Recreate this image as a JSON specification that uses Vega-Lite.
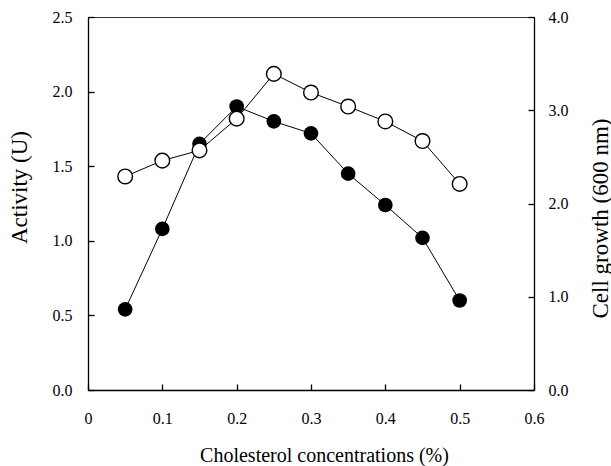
{
  "$schema": "https://vega.github.io/schema/vega-lite/v6.json",
  "autosize": "none",
  "width": 446,
  "height": 373,
  "padding": {"left": 88, "top": 17, "right": 77, "bottom": 76},
  "background": "white",
  "config": {
    "view": {"stroke": "#333333", "strokeWidth": 1},
    "font": "Liberation Serif",
    "axis": {
      "labelFont": "Liberation Serif",
      "titleFont": "Liberation Serif",
      "labelFontSize": 16,
      "titleFontSize": 22,
      "titleFontWeight": "normal",
      "labelColor": "black",
      "titleColor": "black",
      "domainColor": "black",
      "domainWidth": 1.3,
      "ticks": true,
      "tickColor": "black",
      "tickWidth": 1.3,
      "tickSize": -6,
      "grid": false
    }
  },
  "data": {
    "values": [
      {"c": 0.05, "activity": 0.54, "growth": 2.29},
      {"c": 0.10, "activity": 1.08, "growth": 2.46},
      {"c": 0.15, "activity": 1.65, "growth": 2.57},
      {"c": 0.20, "activity": 1.90, "growth": 2.91},
      {"c": 0.25, "activity": 1.80, "growth": 3.39},
      {"c": 0.30, "activity": 1.72, "growth": 3.19},
      {"c": 0.35, "activity": 1.45, "growth": 3.04},
      {"c": 0.40, "activity": 1.24, "growth": 2.88},
      {"c": 0.45, "activity": 1.02, "growth": 2.67},
      {"c": 0.50, "activity": 0.60, "growth": 2.21}
    ]
  },
  "encoding": {
    "x": {
      "field": "c", "type": "quantitative",
      "scale": {"domain": [0, 0.6], "nice": false},
      "axis": {
        "title": "Cholesterol concentrations (%)",
        "titleFontSize": 20,
        "values": [0, 0.1, 0.2, 0.3, 0.4, 0.5, 0.6],
        "labelExpr": "datum.value == 0 ? '0' : format(datum.value, '.1f')",
        "labelPadding": 26,
        "labelFlush": false,
        "titleX": 236,
        "titleY": 65,
        "titleAlign": "center",
        "titleBaseline": "middle"
      }
    }
  },
  "layer": [
    {
      "layer": [
        {"mark": {"type": "line", "color": "black", "strokeWidth": 1}},
        {"mark": {"type": "point", "shape": "circle", "filled": true, "color": "black", "size": 215, "opacity": 1}}
      ],
      "encoding": {
        "y": {
          "field": "activity", "type": "quantitative",
          "scale": {"domain": [0, 2.5], "nice": false},
          "axis": {
            "title": "Activity (U)",
            "titleFontSize": 23,
            "values": [0, 0.5, 1.0, 1.5, 2.0, 2.5],
            "format": ".1f",
            "labelPadding": 22,
            "titleAngle": 270,
            "titleX": -69,
            "titleY": 170,
            "titleAlign": "center",
            "titleBaseline": "middle"
          }
        }
      }
    },
    {
      "layer": [
        {"mark": {"type": "line", "color": "black", "strokeWidth": 1}},
        {"mark": {"type": "point", "shape": "circle", "filled": true, "fill": "white", "stroke": "black", "strokeWidth": 1.4, "size": 215, "opacity": 1}}
      ],
      "encoding": {
        "y": {
          "field": "growth", "type": "quantitative",
          "scale": {"domain": [0, 4], "nice": false},
          "axis": {
            "orient": "right",
            "title": "Cell growth (600 nm)",
            "titleFontSize": 23,
            "values": [0, 1, 2, 3, 4],
            "format": ".1f",
            "labelPadding": 20,
            "titleAngle": 270,
            "titleX": 66,
            "titleY": 201,
            "titleAlign": "center",
            "titleBaseline": "middle"
          }
        }
      }
    }
  ],
  "resolve": {"scale": {"y": "independent"}}
}
